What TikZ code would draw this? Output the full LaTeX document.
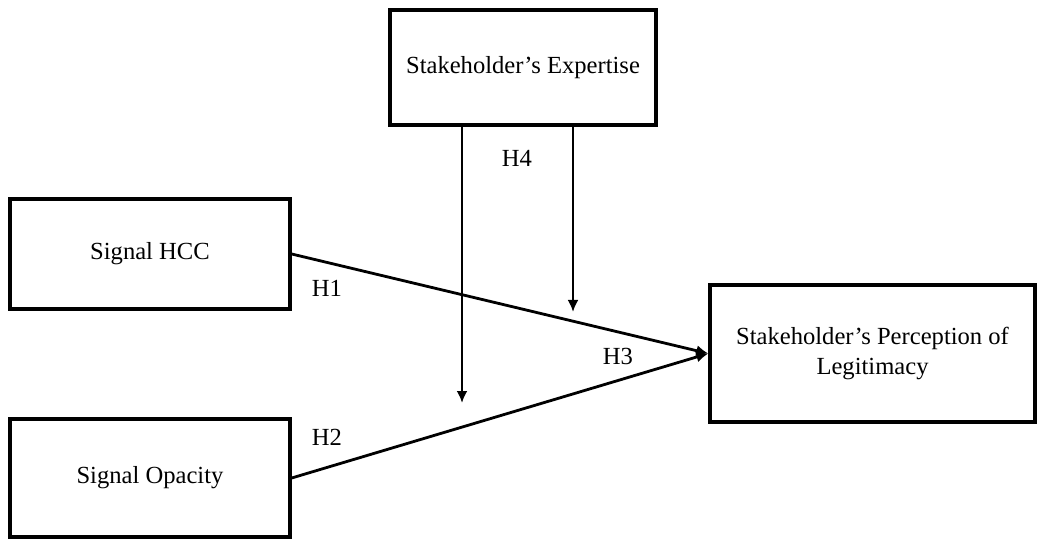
\documentclass[tikz,border=0pt]{standalone}
\usepackage{fontspec}
\setmainfont{Liberation Serif}
\usetikzlibrary{positioning,arrows.meta}

\begin{document}
\begin{tikzpicture}[
  x=0.5pt, y=-0.5pt,
  every node/.style={font=\fontsize{12.3}{15}\selectfont},
  construct/.style={draw, rectangle, line width=1.7pt, inner sep=0pt, align=center},
  path/.style={-{Latex[length=6pt, width=5.5pt]}, line width=1.4pt},
]
\useasboundingbox (0,0) rectangle (1037,539);

\node[construct, minimum width=133pt, minimum height=57.5pt] (expertise) at (523,67.5) {Stakeholder’s Expertise};
\node[construct, minimum width=140pt, minimum height=55pt] (hcc) at (150,254) {Signal HCC};
\node[construct, minimum width=140pt, minimum height=59pt] (opacity) at (150,478) {Signal Opacity};
\node[construct, minimum width=162.5pt, minimum height=68.5pt] (legit) at (872.5,353.5) {Stakeholder’s Perception of \\ Legitimacy};

\coordinate (mod1) at (462,403);
\coordinate (mod2) at (573,312);

\draw[path] (hcc.east) -- (legit.west);
\draw[path] (opacity.east) -- (legit.west);
\draw[path] (expertise.south -| mod1) -- (mod1);
\draw[path] (expertise.south -| mod2) -- (mod2);

\node (h1) at (327,288) {H1};
\node (h2) at (327,437) {H2};
\node (h3) at (618,356) {H3};
\node (h4) at (517,158) {H4};
\end{tikzpicture}
\end{document}
